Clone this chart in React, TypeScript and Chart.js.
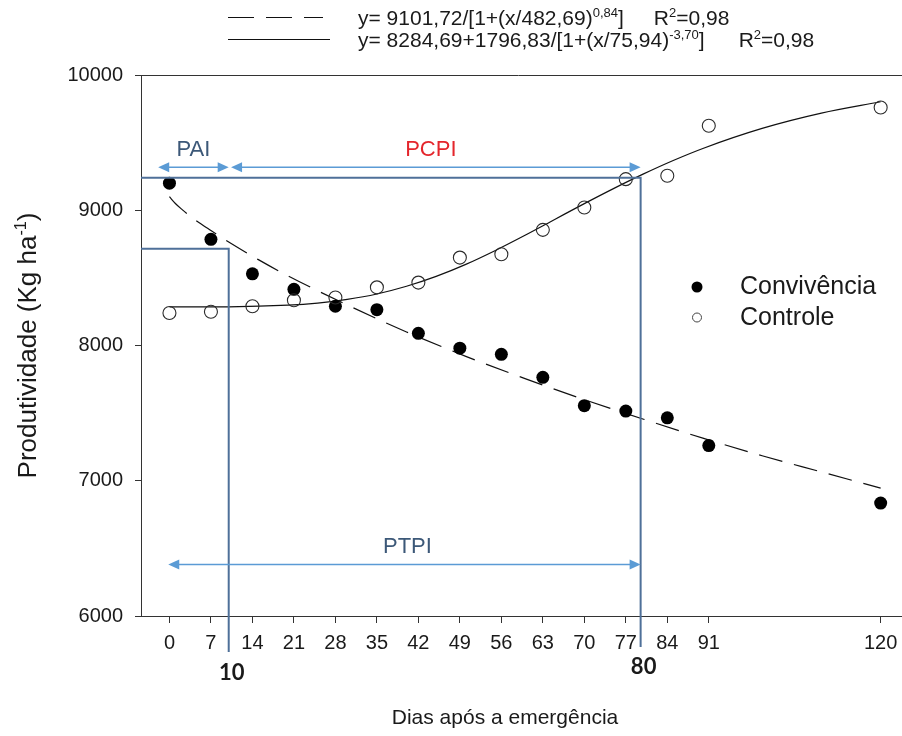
import { useEffect, useRef } from 'react';
import { Chart, registerables } from 'chart.js';

Chart.register(...registerables);

// ---- data ----
const DAYS = [0, 7, 14, 21, 28, 35, 42, 49, 56, 63, 70, 77, 84, 91, 120];
const CONVIVENCIA = [9200, 8785, 8530, 8415, 8290, 8265, 8090, 7980, 7935, 7765, 7555, 7515, 7465, 7260, 6835];
const CONTROLE = [8240, 8250, 8290, 8335, 8355, 8430, 8465, 8650, 8675, 8855, 9020, 9230, 9255, 9625, 9760];

// fitted curves
const FIT_CONV_X = [0, 1, 2, 4, 7, 10, 15, 20, 30, 40, 50, 60, 70, 80, 90, 100, 110, 120];
const FIT_CONV_Y = [9100, 9050, 9010, 8940, 8850, 8765, 8635, 8515, 8300, 8100, 7920, 7755, 7600, 7455, 7315, 7185, 7065, 6945];
const FIT_CTRL_X = [0, 10, 20, 25, 30, 35, 40, 45, 50, 55, 60, 65, 70, 75, 80, 85, 90, 100, 110, 120];
const FIT_CTRL_Y = [8285, 8286, 8298, 8314, 8341, 8381, 8438, 8511, 8600, 8703, 8815, 8932, 9049, 9162, 9269, 9368, 9457, 9605, 9718, 9802];

const X_TICKS = [0, 7, 14, 21, 28, 35, 42, 49, 56, 63, 70, 77, 84, 91, 120];
const Y_MIN = 6000;
const Y_MAX = 10000;
const Y_STEP = 1000;
const X_MIN = -4.8;
const X_MAX = 123.6;

// interference periods
const PAI_END = 10;
const PCPI_END = 79.5;
const PAI_LABEL = '10';
const PCPI_LABEL = '80';
const LEVEL_PCPI = 9240;
const LEVEL_PAI = 8715;
const ARROW_TOP_LEVEL = 9318;
const ARROW_BOTTOM_LEVEL = 6380;
const PAI_ARROW = [-1.9, 10];
const PCPI_ARROW = [10.4, 79.5];
const PTPI_ARROW = [-0.2, 79.5];

const SERIES_NAMES = ['Convivência', 'Controle'];
const X_TITLE = 'Dias após a emergência';
type Part = { t: string; sup?: boolean; gap?: number };
const Y_TITLE: Part[] = [{ t: 'Produtividade (Kg ha' }, { t: '-1', sup: true }, { t: ')' }];
const EQ1: Part[] = [
  { t: 'y= 9101,72/[1+(x/482,69)' }, { t: '0,84', sup: true }, { t: ']', gap: 30 }, { t: 'R' }, { t: '2', sup: true }, { t: '=0,98' },
];
const EQ2: Part[] = [
  { t: 'y= 8284,69+1796,83/[1+(x/75,94)' }, { t: '-3,70', sup: true }, { t: ']', gap: 34 }, { t: 'R' }, { t: '2', sup: true }, { t: '=0,98' },
];

const FAM = '"Liberation Sans", Arial, sans-serif';
const BLUE_LINE = '#4f7099';
const ARROW_BLUE = '#5b9bd5';
const LABEL_BLUE = '#3c5878';
const RED = '#e4262c';
const INK = '#1a1a1a';

function richWidth(ctx: CanvasRenderingContext2D, parts: Part[], size: number) {
  let w = 0;
  for (const p of parts) {
    ctx.font = `${p.sup ? size * 0.62 : size}px ${FAM}`;
    w += ctx.measureText(p.t).width + (p.gap || 0);
  }
  return w;
}

function drawRich(ctx: CanvasRenderingContext2D, parts: Part[], x: number, baseline: number, size: number) {
  let cx = x;
  ctx.textBaseline = 'alphabetic';
  ctx.textAlign = 'left';
  for (const p of parts) {
    const s = p.sup ? size * 0.62 : size;
    ctx.font = `${s}px ${FAM}`;
    ctx.fillText(p.t, cx, p.sup ? baseline - size * 0.4 : baseline);
    cx += ctx.measureText(p.t).width + (p.gap || 0);
  }
}

function arrowHead(ctx: CanvasRenderingContext2D, x: number, y: number, dir: number) {
  const L = 11;
  const W = 5;
  ctx.beginPath();
  ctx.moveTo(x, y);
  ctx.lineTo(x - dir * L, y - W);
  ctx.lineTo(x - dir * L, y + W);
  ctx.closePath();
  ctx.fill();
}

function dblArrow(ctx: CanvasRenderingContext2D, x1: number, x2: number, y: number) {
  ctx.strokeStyle = ARROW_BLUE;
  ctx.fillStyle = ARROW_BLUE;
  ctx.lineWidth = 1.5;
  ctx.beginPath();
  ctx.moveTo(x1 + 6, y);
  ctx.lineTo(x2 - 6, y);
  ctx.stroke();
  arrowHead(ctx, x1, y, -1);
  arrowHead(ctx, x2, y, 1);
}

const overlay = {
  id: 'overlay',
  afterDraw(chart: any) {
    const { ctx, chartArea } = chart;
    const xs = chart.scales.x;
    const ys = chart.scales.y;
    const X = (v: number) => xs.getPixelForValue(v);
    const Y = (v: number) => ys.getPixelForValue(v);
    ctx.save();

    // top frame line
    ctx.strokeStyle = '#333';
    ctx.lineWidth = 1;
    ctx.beginPath();
    ctx.moveTo(chartArea.left - 6, Math.round(chartArea.top) + 0.5);
    ctx.lineTo(chartArea.right, Math.round(chartArea.top) + 0.5);
    ctx.stroke();

    // period lines
    ctx.strokeStyle = BLUE_LINE;
    ctx.lineWidth = 2;
    ctx.beginPath();
    ctx.moveTo(chartArea.left, Y(LEVEL_PCPI));
    ctx.lineTo(X(PCPI_END), Y(LEVEL_PCPI));
    ctx.lineTo(X(PCPI_END), chartArea.bottom + 31);
    ctx.moveTo(chartArea.left, Y(LEVEL_PAI));
    ctx.lineTo(X(PAI_END), Y(LEVEL_PAI));
    ctx.lineTo(X(PAI_END), chartArea.bottom + 36);
    ctx.stroke();

    // arrows
    dblArrow(ctx, X(PAI_ARROW[0]), X(PAI_ARROW[1]), Y(ARROW_TOP_LEVEL));
    dblArrow(ctx, X(PCPI_ARROW[0]), X(PCPI_ARROW[1]), Y(ARROW_TOP_LEVEL));
    dblArrow(ctx, X(PTPI_ARROW[0]), X(PTPI_ARROW[1]), Y(ARROW_BOTTOM_LEVEL));

    ctx.textAlign = 'center';
    ctx.textBaseline = 'middle';
    ctx.font = `22px ${FAM}`;
    ctx.fillStyle = LABEL_BLUE;
    ctx.fillText('PAI', (X(PAI_ARROW[0]) + X(PAI_ARROW[1])) / 2, Y(ARROW_TOP_LEVEL) - 17);
    ctx.fillStyle = RED;
    ctx.fillText('PCPI', (X(PCPI_ARROW[0]) + X(PCPI_ARROW[1])) / 2 - 5, Y(ARROW_TOP_LEVEL) - 17);
    ctx.fillStyle = LABEL_BLUE;
    ctx.fillText('PTPI', (X(PTPI_ARROW[0]) + X(PTPI_ARROW[1])) / 2 + 3, Y(ARROW_BOTTOM_LEVEL) - 18);

    // bold period labels below axis
    ctx.fillStyle = INK;
    ctx.font = `bold 22px Lato, ${FAM}`;
    ctx.fillText(PAI_LABEL, X(PAI_END) + 3, chartArea.bottom + 57);
    ctx.fillText(PCPI_LABEL, X(PCPI_END) + 3, chartArea.bottom + 51);

    // right legend
    ctx.fillStyle = '#000';
    ctx.beginPath();
    ctx.arc(697, 287, 5.5, 0, Math.PI * 2);
    ctx.fill();
    ctx.strokeStyle = '#444';
    ctx.lineWidth = 1;
    ctx.beginPath();
    ctx.arc(697, 317.5, 4.5, 0, Math.PI * 2);
    ctx.stroke();
    ctx.fillStyle = INK;
    ctx.textAlign = 'left';
    ctx.font = `25px ${FAM}`;
    ctx.fillText(SERIES_NAMES[0], 740, 287);
    ctx.fillText(SERIES_NAMES[1], 740, 318);

    // equation legend
    ctx.strokeStyle = '#111';
    ctx.lineWidth = 1.2;
    ctx.setLineDash([26, 12]);
    ctx.beginPath();
    ctx.moveTo(228, 17.5);
    ctx.lineTo(323, 17.5);
    ctx.stroke();
    ctx.setLineDash([]);
    ctx.beginPath();
    ctx.moveTo(228, 39.5);
    ctx.lineTo(330, 39.5);
    ctx.stroke();
    ctx.fillStyle = INK;
    drawRich(ctx, EQ1, 358, 25, 21);
    drawRich(ctx, EQ2, 358, 47, 21);

    // axis titles
    ctx.textAlign = 'center';
    ctx.textBaseline = 'middle';
    ctx.font = `21px ${FAM}`;
    ctx.fillText(X_TITLE, 505, 718);
    ctx.save();
    ctx.translate(27, (chartArea.top + chartArea.bottom) / 2);
    ctx.rotate(-Math.PI / 2);
    const w = richWidth(ctx, Y_TITLE, 26);
    drawRich(ctx, Y_TITLE, -w / 2, 9, 26);
    ctx.restore();

    ctx.restore();
  },
};

export default function App() {
  const ref = useRef<HTMLCanvasElement>(null);

  useEffect(() => {
    if (!ref.current) return;
    const pts = (xs: number[], ys: number[]) => xs.map((x, i) => ({ x, y: ys[i] }));
    const chart = new Chart(ref.current, {
      type: 'scatter',
      data: {
        datasets: [
          {
            label: SERIES_NAMES[0],
            data: pts(DAYS, CONVIVENCIA),
            pointRadius: 6.5,
            pointBackgroundColor: '#000',
            pointBorderColor: '#000',
            pointBorderWidth: 0,
            showLine: false,
            order: 1,
          },
          {
            label: SERIES_NAMES[1],
            data: pts(DAYS, CONTROLE),
            pointRadius: 6.5,
            pointBackgroundColor: 'rgba(0,0,0,0)',
            pointBorderColor: '#2a2a2a',
            pointBorderWidth: 1.1,
            showLine: false,
            order: 0,
          },
          {
            label: 'fit conv',
            data: pts(FIT_CONV_X, FIT_CONV_Y),
            showLine: true,
            pointRadius: 0,
            borderColor: '#111',
            borderWidth: 1.2,
            borderDash: [24, 12],
            cubicInterpolationMode: 'monotone',
            order: 2,
          },
          {
            label: 'fit ctrl',
            data: pts(FIT_CTRL_X, FIT_CTRL_Y),
            showLine: true,
            pointRadius: 0,
            borderColor: '#111',
            borderWidth: 1.2,
            cubicInterpolationMode: 'monotone',
            order: 2,
          },
        ],
      },
      options: {
        animation: false,
        responsive: false,
        devicePixelRatio: 1,
        layout: { autoPadding: false, padding: { top: 75, right: 0, left: 0, bottom: 0 } },
        plugins: { legend: { display: false }, tooltip: { enabled: false } },
        scales: {
          x: {
            type: 'linear',
            min: X_MIN,
            max: X_MAX,
            afterBuildTicks: (s: any) => {
              s.ticks = X_TICKS.map((v) => ({ value: v }));
            },
            afterFit: (s: any) => {
              s.height = 120;
              s.paddingLeft = 0;
              s.paddingRight = 0;
            },
            ticks: {
              autoSkip: false,
              maxRotation: 0,
              padding: 0,
              color: INK,
              font: { family: FAM, size: 20, lineHeight: 2 },
              callback: (v: any) => String(v),
            },
            grid: { drawOnChartArea: false, drawTicks: true, tickLength: 7, color: '#333' },
            border: { display: true, color: '#333', width: 1 },
          },
          y: {
            type: 'linear',
            min: Y_MIN,
            max: Y_MAX,
            ticks: {
              stepSize: Y_STEP,
              padding: 12,
              color: INK,
              font: { family: FAM, size: 20 },
              callback: (v: any) => String(v),
            },
            afterFit: (s: any) => {
              s.width = 141;
            },
            grid: { drawOnChartArea: false, drawTicks: true, tickLength: 6, color: '#333' },
            border: { display: true, color: '#333', width: 1 },
          },
        },
      },
      plugins: [overlay],
    });
    return () => chart.destroy();
  }, []);

  return (
    <div style={{ position: 'fixed', left: 0, top: 0, width: 902, height: 736, background: '#fff' }}>
      <canvas ref={ref} width={902} height={736} style={{ width: 902, height: 736 }} />
    </div>
  );
}
